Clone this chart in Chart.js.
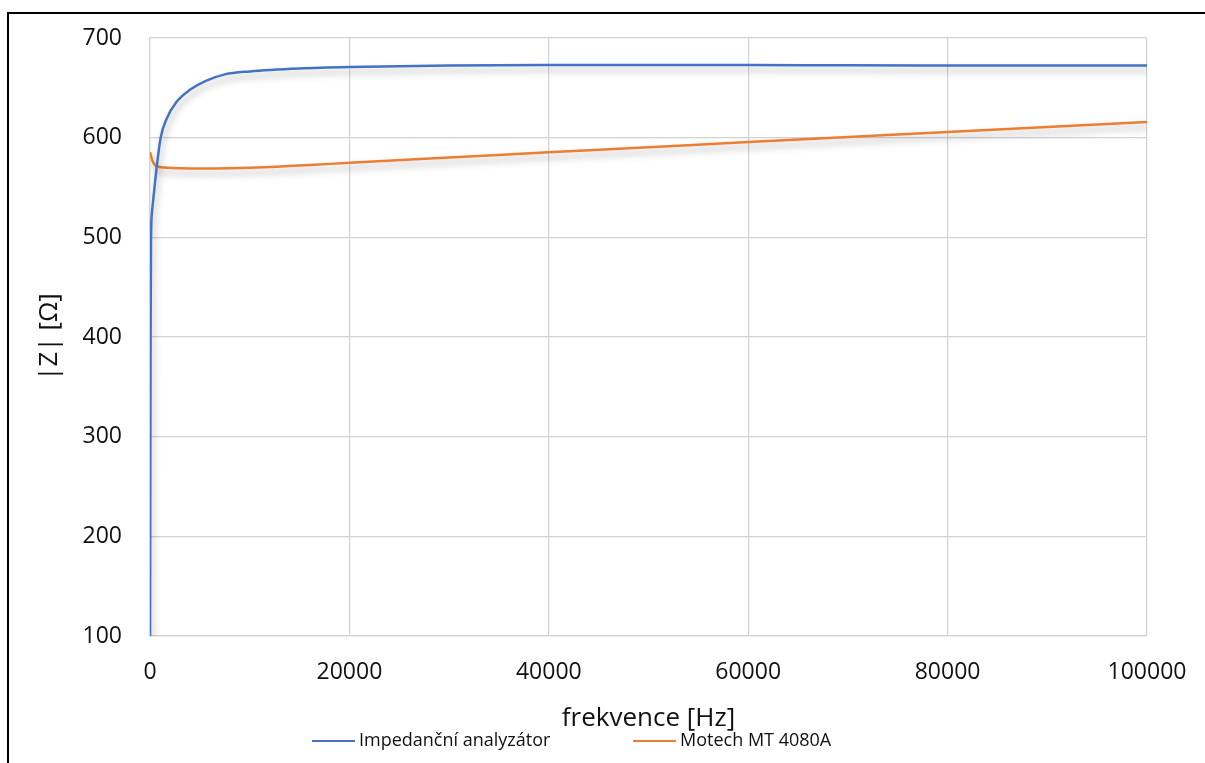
<!DOCTYPE html>
<html>
<head>
<meta charset="utf-8">
<script src="https://cdn.jsdelivr.net/npm/chart.js@4"></script>
<style>
  body { margin: 0; background: #fff; }
</style>
</head>
<body>
<canvas id="impChart" width="1205" height="763"></canvas>
<script>
'use strict';

var seriesNames = ['Impedanční analyzátor', 'Motech MT 4080A'];

// Impedanční analyzátor
var freqAnalyzer = [10, 30, 60, 100, 200, 400, 700, 1070, 1670, 2670, 4000, 5600, 7500, 10000, 15000, 20000, 30000, 40000, 50000, 60000, 70000, 80000, 90000, 100000];
var zAnalyzer = [100, 250, 400, 495, 525, 545, 573, 600, 619, 636, 648, 657, 663.5, 666.5, 669.5, 671, 672.5, 673, 673, 672.9, 672.6, 672.4, 672.3, 672.3];

// Motech MT 4080A
var freqMotech = [10, 170, 330, 670, 1500, 3000, 5000, 8000, 12000, 16000, 20000, 30000, 40000, 50000, 60000, 70000, 80000, 90000, 100000];
var zMotech = [585.5, 579, 575, 571.5, 570, 569.3, 569, 569.3, 570.5, 572.5, 574.8, 580, 585.3, 590.4, 595.6, 600.6, 605.7, 610.7, 615.7];

var xTicks = [0, 20000, 40000, 60000, 80000, 100000];
var yTicks = [100, 200, 300, 400, 500, 600, 700];

var xTitle = 'frekvence [Hz]';
var yTitle = '|Z| [Ω]';

function toPoints(xs, ys) {
  var pts = [];
  for (var i = 0; i < xs.length; i++) {
    pts.push({ x: xs[i], y: ys[i] });
  }
  return pts;
}

var fontName = '"Open Sans", sans-serif';
var textColor = '#111';
var gridColor = '#d2d2d2';

// black frame, right and bottom edges run off the picture
var frame = {
  id: 'frame',
  beforeDraw: function (chart) {
    var ctx = chart.ctx;
    ctx.save();
    ctx.strokeStyle = '#000';
    ctx.lineWidth = 2;
    ctx.strokeRect(8, 13, 1400, 900);
    ctx.restore();
  }
};

// soft shadow under the lines, excel style
var lineShadow = {
  id: 'lineShadow',
  beforeDatasetsDraw: function (chart) {
    var ctx = chart.ctx;
    ctx.save();
    ctx.shadowColor = 'rgba(0, 0, 0, 0.3)';
    ctx.shadowBlur = 7;
    ctx.shadowOffsetX = 2;
    ctx.shadowOffsetY = 5;
  },
  afterDatasetsDraw: function (chart) {
    chart.ctx.restore();
  }
};

var lineLegend = {
  id: 'lineLegend',
  afterDraw: function (chart, args, opts) {
    var ctx = chart.ctx;
    ctx.save();
    ctx.font = opts.fontSize + 'px ' + fontName;
    ctx.textBaseline = 'middle';
    ctx.fillStyle = textColor;
    chart.data.datasets.forEach(function (ds, i) {
      var x = opts.starts[i];
      ctx.strokeStyle = ds.borderColor;
      ctx.lineWidth = 2;
      ctx.beginPath();
      ctx.moveTo(x, opts.y);
      ctx.lineTo(x + opts.sample, opts.y);
      ctx.stroke();
      ctx.fillText(ds.label, x + opts.sample + 4, opts.y);
    });
    ctx.restore();
  }
};

var ctx = document.getElementById('impChart').getContext('2d');
var impChart = new Chart(ctx, {
  type: 'scatter',
  data: {
    datasets: [{
      label: seriesNames[0],
      data: toPoints(freqAnalyzer, zAnalyzer),
      borderColor: '#4472C4',
      backgroundColor: '#4472C4',
      borderWidth: 2.5,
      showLine: true,
      pointRadius: 0,
      cubicInterpolationMode: 'monotone'
    }, {
      label: seriesNames[1],
      data: toPoints(freqMotech, zMotech),
      borderColor: '#ED7D31',
      backgroundColor: '#ED7D31',
      borderWidth: 2.5,
      showLine: true,
      pointRadius: 0,
      cubicInterpolationMode: 'monotone'
    }]
  },
  options: {
    responsive: false,
    animation: false,
    devicePixelRatio: 1,
    layout: {
      padding: { left: 0, top: 38, right: 58, bottom: 0 }
    },
    plugins: {
      legend: { display: false },
      tooltip: { enabled: false },
      lineLegend: { starts: [312, 633], y: 741, sample: 43, fontSize: 18 }
    },
    scales: {
      x: {
        type: 'linear',
        min: xTicks[0],
        max: xTicks[xTicks.length - 1],
        afterFit: function (scale) {
          scale.height = 127;
          // tick padding would otherwise push the plot edge in
          scale.paddingLeft = 0;
          scale.paddingRight = 0;
        },
        ticks: {
          stepSize: xTicks[1] - xTicks[0],
          padding: 23,
          color: textColor,
          font: { family: fontName, size: 23 },
          maxRotation: 0,
          callback: function (v) { return String(v); }
        },
        grid: { color: gridColor, lineWidth: 1.2, drawTicks: false },
        border: { color: gridColor, width: 1.2 },
        title: {
          display: true,
          text: xTitle,
          color: textColor,
          font: { family: fontName, size: 26 },
          padding: { top: 0, bottom: 29 }
        }
      },
      y: {
        type: 'linear',
        min: yTicks[0],
        max: yTicks[yTicks.length - 1],
        afterFit: function (scale) {
          scale.width = 150;
          scale.paddingTop = 0;
          scale.paddingBottom = 0;
        },
        ticks: {
          stepSize: yTicks[1] - yTicks[0],
          padding: 28,
          color: textColor,
          font: { family: fontName, size: 23 }
        },
        grid: { color: gridColor, lineWidth: 1.2, drawTicks: false },
        border: { color: gridColor, width: 1.2 },
        title: {
          display: true,
          text: yTitle,
          color: textColor,
          font: { family: fontName, size: 26 },
          padding: { top: 34, bottom: 0 }
        }
      }
    }
  },
  plugins: [frame, lineShadow, lineLegend]
});
</script>
</body>
</html>
